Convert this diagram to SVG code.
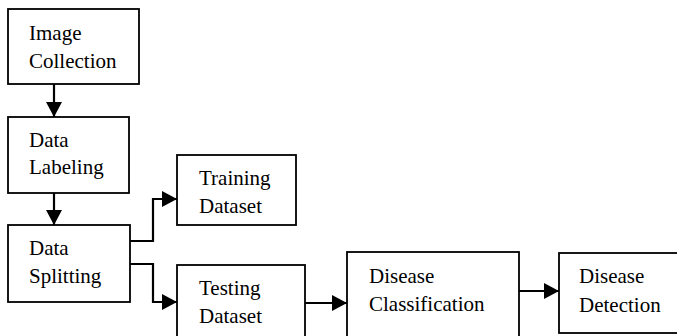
<svg xmlns="http://www.w3.org/2000/svg" width="677" height="336" viewBox="0 0 677 336">
<style>
.box{fill:#fff;stroke:#000;stroke-width:1.8}
.con{fill:none;stroke:#000;stroke-width:2.2}
</style>
<defs>
<marker id="ah" markerUnits="userSpaceOnUse" markerWidth="16" markerHeight="16" viewBox="0 0 16 16" refX="15" refY="8" orient="auto">
<path d="M0,0 L15,8 L0,16 Z" fill="#000"/>
</marker>
</defs>
<rect width="677" height="336" fill="#fff"/>
<g font-family="Liberation Serif, Times New Roman, serif" font-size="21" fill="#000">
<g id="n-image-collection">
<rect class="box" x="8" y="9" width="131" height="75"/>
<text x="29" y="40">Image</text>
<text x="29" y="68">Collection</text>
</g>
<g id="n-data-labeling">
<rect class="box" x="8" y="117" width="121" height="76"/>
<text x="29" y="147">Data</text>
<text x="29" y="174">Labeling</text>
</g>
<g id="n-data-splitting">
<rect class="box" x="8" y="225" width="122" height="77"/>
<text x="29" y="255">Data</text>
<text x="29" y="283">Splitting</text>
</g>
<g id="n-training">
<rect class="box" x="177" y="155" width="119" height="70"/>
<text x="199" y="185">Training</text>
<text x="199" y="213">Dataset</text>
</g>
<g id="n-testing">
<rect class="box" x="177" y="265" width="128" height="80"/>
<text x="199" y="295">Testing</text>
<text x="199" y="323">Dataset</text>
</g>
<g id="n-classification">
<rect class="box" x="347" y="252" width="172" height="93"/>
<text x="369" y="283">Disease</text>
<text x="369" y="311">Classification</text>
</g>
<g id="n-detection">
<rect class="box" x="559" y="253" width="125" height="80"/>
<text x="579" y="283">Disease</text>
<text x="579" y="312">Detection</text>
</g>
</g>
<g id="connectors">
<path class="con" d="M54,84 L54,117" marker-end="url(#ah)"/>
<path class="con" d="M54,193 L54,225" marker-end="url(#ah)"/>
<path class="con" d="M130,241 L153,241 L153,199 L177,199" marker-end="url(#ah)"/>
<path class="con" d="M130,264 L153,264 L153,302 L177,302" marker-end="url(#ah)"/>
<path class="con" d="M305,303 L347,303" marker-end="url(#ah)"/>
<path class="con" d="M519,291 L559,291" marker-end="url(#ah)"/>
</g>
</svg>
